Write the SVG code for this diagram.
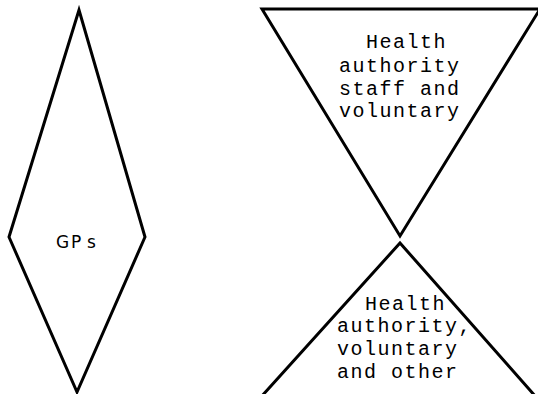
<svg xmlns="http://www.w3.org/2000/svg" width="538" height="394" viewBox="0 0 538 394">
<style>
.shape{fill:none;stroke:#000;stroke-width:3;stroke-linejoin:miter}
.mono{font-family:"Liberation Mono","Courier New",monospace;font-size:20px;letter-spacing:1.5px;fill:#000}
.sans{font-family:"DejaVu Sans","Liberation Sans",sans-serif;font-size:17px;fill:#000}
</style>
<rect width="538" height="394" fill="#fff"/>
<g id="gps">
<polygon class="shape" points="79,10 145,237 77,392 9,237"/>
<text class="sans" x="56 71 87" y="248">GPs</text>
</g>
<g id="health-authority-staff">
<polygon class="shape" points="262,9 540,9 400,236"/>
<text class="mono" x="366" y="48">Health</text>
<text class="mono" x="339" y="72">authority</text>
<text class="mono" x="339" y="95">staff and</text>
<text class="mono" x="339" y="117">voluntary</text>
</g>
<g id="health-authority-other">
<polyline class="shape" points="261,397 400,243 536,397"/>
<text class="mono" x="365" y="310">Health</text>
<text class="mono" x="337" y="332">authority,</text>
<text class="mono" x="337" y="355">voluntary</text>
<text class="mono" x="337" y="378">and other</text>
</g>
</svg>
